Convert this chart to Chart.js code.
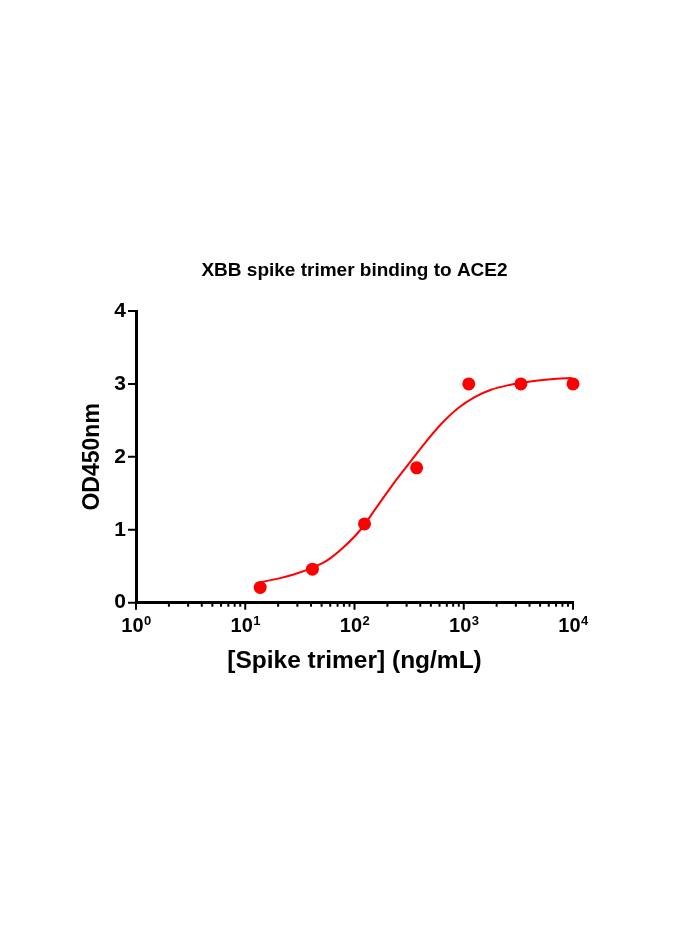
<!DOCTYPE html>
<html>
<head>
<meta charset="utf-8">
<title>XBB spike trimer binding to ACE2</title>
<script src="https://cdn.jsdelivr.net/npm/chart.js@4.4.1/dist/chart.umd.min.js"></script>
<style>
  html, body { margin: 0; padding: 0; background: #fff; }
  #wrap { position: relative; width: 700px; height: 934px; }
</style>
</head>
<body>
<div id="wrap"><canvas id="bindingChart"></canvas></div>
<script>
// Spike trimer concentration (ng/mL), 3-fold dilutions
const concentrations = [13.7, 41.2, 123.5, 370.4, 1111, 3333, 10000];
const od450 = [0.21, 0.46, 1.08, 1.85, 3.00, 3.00, 3.00];

// Fitted curve
const fitX = [13.6, 20, 28.2, 39.8, 56.2, 79.4, 112, 158, 224, 316, 447, 631, 891, 1259, 1778, 2512, 3548, 5012, 7079, 9772];
const fitY = [0.28, 0.33, 0.39, 0.47, 0.58, 0.76, 0.99, 1.30, 1.62, 1.91, 2.20, 2.46, 2.67, 2.82, 2.92, 2.98, 3.02, 3.05, 3.07, 3.08];

// Axis ticks
const xDecades = [1, 10, 100, 1000, 10000];
const xExponents = ['0', '1', '2', '3', '4'];
const xMinorSteps = [2, 3, 4, 5, 6, 7, 8, 9];
const yTicks = [0, 1, 2, 3, 4];

document.addEventListener('DOMContentLoaded', function () {
  const FONT = '"Liberation Sans", Arial, Helvetica, sans-serif';
  Chart.defaults.font.family = FONT;
  Chart.defaults.color = '#000';

  // tick marks (long/short) and 10^n labels
  const axisTicks = {
    id: 'axisTicks',
    afterDraw(chart) {
      const ctx = chart.ctx;
      const xs = chart.scales.x;
      const ys = chart.scales.y;
      const area = chart.chartArea;
      ctx.save();
      ctx.strokeStyle = '#000';
      ctx.lineWidth = 2;
      ctx.beginPath();
      xDecades.forEach((d, i) => {
        const px = xs.getPixelForValue(d);
        ctx.moveTo(px, area.bottom);
        ctx.lineTo(px, area.bottom + 7);
        if (i < xDecades.length - 1) {
          xMinorSteps.forEach(m => {
            const mx = xs.getPixelForValue(d * m);
            ctx.moveTo(mx, area.bottom);
            ctx.lineTo(mx, area.bottom + 4);
          });
        }
      });
      yTicks.forEach(v => {
        const py = ys.getPixelForValue(v);
        ctx.moveTo(area.left - 8, py);
        ctx.lineTo(area.left, py);
      });
      ctx.stroke();

      // x labels with superscript exponent
      ctx.fillStyle = '#000';
      ctx.textBaseline = 'alphabetic';
      ctx.textAlign = 'left';
      xDecades.forEach((d, i) => {
        const px = xs.getPixelForValue(d);
        ctx.font = 'bold 20px ' + FONT;
        const wBase = ctx.measureText('10').width;
        ctx.font = 'bold 13px ' + FONT;
        const wExp = ctx.measureText(xExponents[i]).width;
        const start = px - (wBase + wExp) / 2;
        ctx.font = 'bold 20px ' + FONT;
        ctx.fillText('10', start, area.bottom + 29);
        ctx.font = 'bold 13px ' + FONT;
        ctx.fillText(xExponents[i], start + wBase + 0.5, area.bottom + 22);
      });
      ctx.restore();
    }
  };

  const fitData = fitX.map((x, i) => ({ x: x, y: fitY[i] }));
  const pointData = concentrations.map((x, i) => ({ x: x, y: od450[i] }));

  const config = {
    type: 'scatter',
    data: {
      datasets: [
        {
          label: 'Fit',
          data: fitData,
          showLine: true,
          borderColor: '#ff0000',
          borderWidth: 2,
          pointRadius: 0,
          pointHoverRadius: 0,
          cubicInterpolationMode: 'monotone',
          clip: false,
          order: 2
        },
        {
          label: 'OD450',
          data: pointData,
          pointRadius: 6.5,
          pointHoverRadius: 6.5,
          backgroundColor: '#ff0000',
          borderColor: '#ff0000',
          borderWidth: 0,
          clip: false,
          order: 1
        }
      ]
    },
    options: {
      responsive: true,
      maintainAspectRatio: false,
      animation: false,
      events: [],
      layout: { padding: { top: 250, right: 127, bottom: 253.6, left: 0 } },
      plugins: {
        legend: { display: false },
        tooltip: { enabled: false },
        title: {
          display: true,
          fullSize: false,
          text: 'XBB spike trimer binding to ACE2',
          color: '#000',
          font: { size: 19, weight: 'bold' },
          padding: { top: 9.6, bottom: 28.6 }
        }
      },
      scales: {
        x: {
          type: 'logarithmic',
          min: 1,
          max: 10000,
          grid: { display: false, drawTicks: false },
          border: { display: true, color: '#000', width: 3 },
          ticks: { display: false },
          title: {
            display: true,
            text: '[Spike trimer] (ng/mL)',
            color: '#000',
            font: { size: 24.5, weight: 'bold' },
            padding: { top: 0, bottom: 4 }
          },
          afterFit: function (scale) { scale.height = 77.7; }
        },
        y: {
          min: 0,
          max: 4,
          grid: { display: false, drawTicks: false },
          border: { display: true, color: '#000', width: 3 },
          ticks: {
            stepSize: 1,
            color: '#000',
            padding: 10,
            font: { size: 21, weight: 'bold' }
          },
          title: {
            display: true,
            text: 'OD450nm',
            color: '#000',
            font: { size: 23, weight: 'bold' },
            padding: { top: 79, bottom: 0 }
          },
          afterFit: function (scale) { scale.width = 136; }
        }
      }
    },
    plugins: [axisTicks]
  };

  const chartEl = document.getElementById('bindingChart');
  if (chartEl) new Chart(chartEl, config);
});
</script>
</body>
</html>
